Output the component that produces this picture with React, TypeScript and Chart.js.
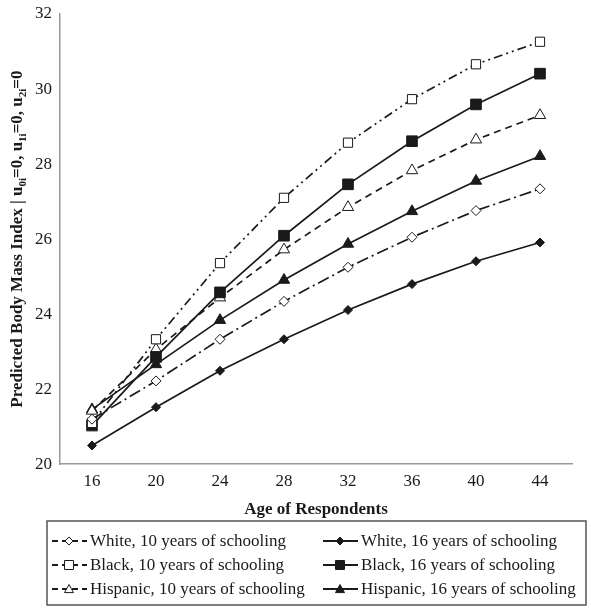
import React, { useEffect, useRef } from 'react';
import { Chart, registerables } from 'chart.js';

Chart.register(...registerables);

const ages = ['16', '20', '24', '28', '32', '36', '40', '44'];
const white10 = [21.2, 22.22, 23.33, 24.34, 25.25, 26.05, 26.76, 27.34];
const white16 = [20.5, 21.52, 22.49, 23.33, 24.11, 24.8, 25.41, 25.91];
const black10 = [21.1, 23.33, 25.36, 27.1, 28.57, 29.73, 30.66, 31.26];
const black16 = [21.03, 22.86, 24.58, 26.09, 27.46, 28.61, 29.59, 30.41];
const hisp10 = [21.42, 23.06, 24.44, 25.72, 26.85, 27.83, 28.65, 29.3];
const hisp16 = [21.46, 22.66, 23.84, 24.91, 25.87, 26.74, 27.55, 28.21];
const yTicks = [20, 22, 24, 26, 28, 30, 32];

const FONT = "'Liberation Serif', 'DejaVu Serif', serif";
const INK = '#1a1a1a';

type Series = {
  label: string;
  data: number[];
  dash: number[];
  pointStyle: string;
  radius: number;
  filled: boolean;
  legendMarker: string;
};

const seriesList: Series[] = [
  { label: 'White, 10 years of schooling', data: white10, dash: [12, 4, 2, 4], pointStyle: 'rectRot', radius: 5, filled: false, legendMarker: 'diamond' },
  { label: 'White, 16 years of schooling', data: white16, dash: [], pointStyle: 'rectRot', radius: 4.5, filled: true, legendMarker: 'diamond' },
  { label: 'Black, 10 years of schooling', data: black10, dash: [9, 4, 2, 4, 2, 4], pointStyle: 'rect', radius: 6.5, filled: false, legendMarker: 'square' },
  { label: 'Black, 16 years of schooling', data: black16, dash: [], pointStyle: 'rect', radius: 7.5, filled: true, legendMarker: 'square' },
  { label: 'Hispanic, 10 years of schooling', data: hisp10, dash: [7, 5], pointStyle: 'triangle', radius: 6.5, filled: false, legendMarker: 'triangle' },
  { label: 'Hispanic, 16 years of schooling', data: hisp16, dash: [], pointStyle: 'triangle', radius: 6.5, filled: true, legendMarker: 'triangle' },
];

function drawMarker(ctx: CanvasRenderingContext2D, kind: string, x: number, y: number, s: number, filled: boolean) {
  ctx.save();
  ctx.setLineDash([]);
  ctx.beginPath();
  if (kind === 'diamond') {
    ctx.moveTo(x, y - s);
    ctx.lineTo(x + s, y);
    ctx.lineTo(x, y + s);
    ctx.lineTo(x - s, y);
    ctx.closePath();
  } else if (kind === 'square') {
    ctx.rect(x - s, y - s, 2 * s, 2 * s);
  } else {
    ctx.moveTo(x, y - s);
    ctx.lineTo(x + s, y + s * 0.8);
    ctx.lineTo(x - s, y + s * 0.8);
    ctx.closePath();
  }
  ctx.fillStyle = filled ? INK : '#ffffff';
  ctx.fill();
  ctx.lineWidth = 1;
  ctx.strokeStyle = INK;
  ctx.stroke();
  ctx.restore();
}

const overlayPlugin = {
  id: 'overlay',
  afterDraw(chart: any) {
    const ctx: CanvasRenderingContext2D = chart.ctx;
    const area = chart.chartArea;

    // Y axis title with subscripts
    ctx.save();
    const cy = (area.top + area.bottom) / 2;
    ctx.translate(18, cy);
    ctx.rotate(-Math.PI / 2);
    const parts: Array<[string, boolean]> = [
      ['Predicted Body Mass Index | u', false], ['0i', true], ['=0, u', false], ['1i', true], ['=0, u', false], ['2i', true], ['=0', false],
    ];
    const big = `bold 17px ${FONT}`;
    const small = `bold 11px ${FONT}`;
    let total = 0;
    for (const [t, sub] of parts) {
      ctx.font = sub ? small : big;
      total += ctx.measureText(t).width;
    }
    let px = -total / 2;
    ctx.fillStyle = INK;
    ctx.textBaseline = 'middle';
    ctx.textAlign = 'left';
    for (const [t, sub] of parts) {
      ctx.font = sub ? small : big;
      ctx.fillText(t, px, sub ? 5 : 0);
      px += ctx.measureText(t).width;
    }
    ctx.restore();

    // Legend box
    ctx.save();
    const boxL = 47, boxR = 586, boxT = 521, boxB = 605;
    ctx.strokeStyle = '#555';
    ctx.lineWidth = 1.5;
    ctx.strokeRect(boxL, boxT, boxR - boxL, boxB - boxT);
    const colX = [52, 323];
    const rowY = [541, 565, 589];
    ctx.font = `17px ${FONT}`;
    ctx.textBaseline = 'middle';
    ctx.textAlign = 'left';
    seriesList.forEach((s, i) => {
      const col = i % 2;
      const row = Math.floor(i / 2);
      const x0 = colX[col];
      const y0 = rowY[row];
      ctx.strokeStyle = INK;
      ctx.lineWidth = 1.8;
      ctx.setLineDash(s.dash.length ? [6, 4] : []);
      ctx.beginPath();
      ctx.moveTo(x0, y0);
      ctx.lineTo(x0 + 35, y0);
      ctx.stroke();
      ctx.setLineDash([]);
      drawMarker(ctx, s.legendMarker, x0 + 17, y0, s.legendMarker === 'diamond' ? 4 : 4.5, s.filled);
      ctx.fillStyle = INK;
      ctx.fillText(s.label, x0 + 38, y0 + 1);
    });
    ctx.restore();
  },
};

export default function App() {
  const ref = useRef<HTMLCanvasElement | null>(null);
  useEffect(() => {
    if (!ref.current) return;
    const chart = new Chart(ref.current, {
      type: 'line',
      data: {
        labels: ages,
        datasets: seriesList.map((s) => ({
          label: s.label,
          data: s.data,
          borderColor: INK,
          borderWidth: 1.7,
          borderDash: s.dash,
          pointStyle: s.pointStyle as any,
          pointRadius: s.radius,
          pointBackgroundColor: s.filled ? INK : '#ffffff',
          pointBorderColor: INK,
          pointBorderWidth: 1,
          fill: false,
          tension: 0,
        })),
      },
      options: {
        animation: false,
        responsive: false,
        layout: { padding: { left: 0, right: 19, top: 14, bottom: 93 } },
        plugins: { legend: { display: false }, tooltip: { enabled: false } },
        scales: {
          x: {
            offset: true,
            grid: { display: false, drawTicks: false },
            border: { display: true, color: '#999', width: 1.5 },
            ticks: { color: INK, font: { family: FONT, size: 17 }, padding: 7 },
            title: { display: true, text: 'Age of Respondents', color: INK, font: { family: FONT, size: 17, weight: 'bold' }, padding: { top: 1, bottom: 0 } },
          },
          y: {
            min: 20,
            max: 32,
            afterFit: (s: any) => { s.width = 60; s.paddingTop = 0; s.paddingBottom = 0; },
            afterBuildTicks: (s: any) => { s.ticks = yTicks.map((v) => ({ value: v })); },
            grid: { display: false, drawTicks: false },
            border: { display: true, color: '#999', width: 1.5 },
            ticks: { color: INK, font: { family: FONT, size: 17 }, padding: 8 },
          },
        },
      },
      plugins: [overlayPlugin],
    });
    return () => chart.destroy();
  }, []);
  return (
    <div style={{ position: 'fixed', left: 0, top: 0, width: 591, height: 613, background: '#fff' }}>
      <canvas ref={ref} width={591} height={613} style={{ width: 591, height: 613 }} />
    </div>
  );
}
